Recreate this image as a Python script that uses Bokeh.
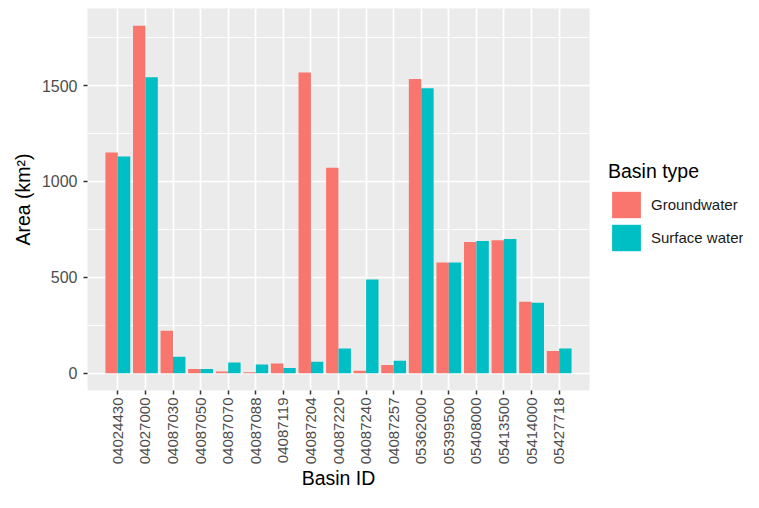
from bokeh.plotting import figure
from bokeh.models import (ColumnDataSource, FactorRange, Range1d, FixedTicker,
                          Legend, LegendItem)
from bokeh.layouts import row
from bokeh.transform import dodge
from bokeh.embed import file_html
from bokeh.resources import INLINE
import math

basins = ["04024430", "04027000", "04087030", "04087050", "04087070", "04087088",
          "04087119", "04087204", "04087220", "04087240", "04087257", "05362000",
          "05399500", "05408000", "05413500", "05414000", "05427718"]
groundwater = [1151, 1812, 221, 22, 8, 4, 50, 1569, 1072, 12, 42, 1535, 577, 684, 694, 372, 116]
surface_water = [1131, 1544, 86, 22, 55, 45, 27, 60, 129, 488, 65, 1486, 577, 690, 700, 367, 129]
y_major = [0, 500, 1000, 1500]
y_minor = [250, 750, 1250, 1750]
series_labels = ["Groundwater", "Surface water"]

FONT = "Liberation Sans"
GW_COLOR = "#F8766D"
SW_COLOR = "#00BFC4"

src = ColumnDataSource(dict(basin=basins, gw=groundwater, sw=surface_water))

ymax = max(max(groundwater), max(surface_water))
pad = 0.05 * ymax

p = figure(width=595, height=492, output_backend="svg", toolbar_location=None,
           x_range=FactorRange(factors=basins, range_padding=0.6,
                               range_padding_units="absolute"),
           y_range=Range1d(-pad, ymax + pad),
           min_border_left=87, min_border_right=6, min_border_top=8,
           min_border_bottom=80)

r_gw = p.vbar(x=dodge("basin", -0.225, range=p.x_range), top="gw", bottom=0,
              width=0.45, source=src, fill_color=GW_COLOR, line_color=None)
r_sw = p.vbar(x=dodge("basin", 0.225, range=p.x_range), top="sw", bottom=0,
              width=0.45, source=src, fill_color=SW_COLOR, line_color=None)

p.background_fill_color = "#EBEBEB"
p.border_fill_color = "white"
p.outline_line_color = None

# grid
p.xgrid.grid_line_color = "white"
p.xgrid.grid_line_width = 1.7
p.ygrid.grid_line_color = "white"
p.ygrid.grid_line_width = 1.7
p.ygrid.minor_grid_line_color = "white"
p.ygrid.minor_grid_line_width = 0.85

# y axis
p.yaxis.ticker = FixedTicker(ticks=y_major, minor_ticks=y_minor)
p.yaxis.axis_label = "Area (km²)"
p.yaxis.axis_line_color = None
p.yaxis.major_tick_out = 4
p.yaxis.major_tick_in = 0
p.yaxis.minor_tick_out = 0
p.yaxis.minor_tick_in = 0
p.yaxis.major_tick_line_color = "#333333"
p.yaxis.major_tick_line_width = 1.5
p.yaxis.major_label_text_font = FONT
p.yaxis.major_label_text_font_size = "16px"
p.yaxis.major_label_text_color = "#4D4D4D"
p.yaxis.major_label_standoff = 6
p.yaxis.axis_label_text_font = FONT
p.yaxis.axis_label_text_font_size = "19.5px"
p.yaxis.axis_label_text_font_style = "normal"
p.yaxis.axis_label_text_color = "black"
p.yaxis.axis_label_standoff = 5

# x axis
p.xaxis.axis_label = "Basin ID"
p.xaxis.axis_line_color = None
p.xaxis.major_tick_out = 4
p.xaxis.major_tick_in = 0
p.xaxis.major_tick_line_color = "#333333"
p.xaxis.major_tick_line_width = 1.5
p.xaxis.major_label_orientation = math.pi / 2
p.xaxis.major_label_text_font = FONT
p.xaxis.major_label_text_font_size = "15px"
p.xaxis.major_label_text_color = "#4D4D4D"
p.xaxis.major_label_standoff = 3
p.xaxis.axis_label_text_font = FONT
p.xaxis.axis_label_text_font_size = "19.5px"
p.xaxis.axis_label_text_font_style = "normal"
p.xaxis.axis_label_text_color = "black"
p.xaxis.axis_label_text_line_height = 1.0
p.xaxis.axis_label_standoff = 0

# legend panel (separate figure to the right)
lg = figure(width=148, height=492, output_backend="svg", toolbar_location=None,
            x_axis_type=None, y_axis_type=None, min_border=0,
            x_range=Range1d(0, 1), y_range=Range1d(0, 1))
lg.outline_line_color = None
lg.background_fill_color = "white"
lg.border_fill_color = "white"
lg.grid.visible = False
offscreen = ColumnDataSource(dict(x=[5], top=[5], bottom=[4]))
l_gw = lg.vbar(x="x", top="top", bottom="bottom", width=0.1, source=offscreen,
               fill_color=GW_COLOR, line_color=None)
l_sw = lg.vbar(x="x", top="top", bottom="bottom", width=0.1, source=offscreen,
               fill_color=SW_COLOR, line_color=None)

legend = Legend(items=[LegendItem(label=series_labels[0], renderers=[l_gw]),
                       LegendItem(label=series_labels[1], renderers=[l_sw])],
                title="Basin type", location=(13, 136))
legend.title_text_font = FONT
legend.title_text_font_size = "19.5px"
legend.title_text_font_style = "normal"
legend.title_text_color = "black"
legend.title_standoff = 5
legend.label_text_font = FONT
legend.label_text_font_size = "15px"
legend.label_text_color = "#1A1A1A"
legend.glyph_width = 36
legend.glyph_height = 33
legend.label_height = 33
legend.label_standoff = 7
legend.spacing = 0
legend.padding = 0
legend.margin = 0
legend.background_fill_alpha = 0
legend.border_line_color = None
lg.add_layout(legend, "center")

layout = row(p, lg)
open("out.html", "w").write(file_html(layout, INLINE))
